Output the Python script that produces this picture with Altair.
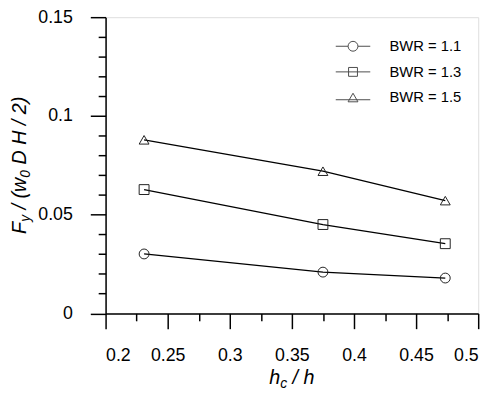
import altair as alt
import pandas as pd

# ---- data ----
hc_h = [0.231, 0.375, 0.4735]
series_labels = ["BWR = 1.1", "BWR = 1.3", "BWR = 1.5"]
fy_bwr_11 = [0.0301, 0.0209, 0.0179]
fy_bwr_13 = [0.0627, 0.0450, 0.0353]
fy_bwr_15 = [0.0879, 0.0720, 0.0571]

x_major = [0.2, 0.25, 0.3, 0.35, 0.4, 0.45, 0.5]
x_minor = [0.225, 0.275, 0.325, 0.375, 0.425, 0.475]
y_major = [0, 0.05, 0.1, 0.15]
y_minor = [0.01, 0.02, 0.03, 0.04, 0.06, 0.07, 0.08, 0.09,
           0.11, 0.12, 0.13, 0.14]

rows = []
for lab, vals in zip(series_labels, [fy_bwr_11, fy_bwr_13, fy_bwr_15]):
    for xv, yv in zip(hc_h, vals):
        rows.append({"x": xv, "y": yv, "series": lab})
df = pd.DataFrame(rows)

# ---- layout ----
W, H = 378, 300.5
PAD = {"left": 99, "top": 6.5, "right": 14, "bottom": 82}
FONT = "Liberation Sans"
MAJ, MIN = 15.5, 7.5

xs = alt.Scale(domain=[0.2, 0.5], nice=False, zero=False)
ys = alt.Scale(domain=[0, 0.15], nice=False, zero=False)

ax_common = dict(grid=False, title=None, tickColor="black", domainColor="black",
                 tickWidth=1.5, domainWidth=1.5, labelColor="black",
                 labelFont=FONT, labelFontSize=18, format=".4~g")

lines = alt.Chart(df).mark_line(color="black", strokeWidth=1.3).encode(
    x=alt.X("x:Q", scale=xs, axis=alt.Axis(values=x_major, tickSize=MAJ, orient="bottom",
                                           labelPadding=18.2, **ax_common)),
    y=alt.Y("y:Q", scale=ys, axis=alt.Axis(values=y_major, tickSize=MAJ, orient="left",
                                           labelPadding=18.2, **ax_common)),
    detail="series:N",
)

points = alt.Chart(df).mark_point(filled=False, color="#222", strokeWidth=1, size=100,
                                  opacity=1).encode(
    x=alt.X("x:Q", scale=xs, axis=alt.Axis(values=x_minor, tickSize=MIN, orient="bottom",
                                           labels=False, domain=False, **ax_common)),
    y=alt.Y("y:Q", scale=ys, axis=alt.Axis(values=y_minor, tickSize=MIN, orient="left",
                                           labels=False, domain=False, **ax_common)),
    shape=alt.Shape("series:N",
                    scale=alt.Scale(domain=series_labels,
                                    range=["circle", "square", "triangle-up"]),
                    legend=None),
)

circ = "M-3.5,0H-1M1,0H3.5M1,0A1,1,0,1,1,-1,0A1,1,0,1,1,1,0"
sq = "M-3.5,0H3.5M-0.9,-0.9H0.9V0.9H-0.9Z"
tri = "M-3.5,0.45H3.5M0,-0.87L1,0.87L-1,0.87Z"

legend_layer = alt.Chart(df).transform_filter("false").mark_point(
    filled=False, color="black", strokeWidth=1).encode(
    shape=alt.Shape("series:N",
                    scale=alt.Scale(domain=series_labels, range=[circ, sq, tri]),
                    legend=alt.Legend(orient="none", legendX=243.5, legendY=22,
                                      title=None, padding=0, symbolSize=100,
                                      symbolStrokeWidth=1, symbolStrokeColor="black",
                                      labelFont=FONT, labelFontSize=15,
                                      labelColor="black", labelOffset=29.5,
                                      rowPadding=10)),
)

# ---- composed axis titles (italic with subscripts) ----
SP = 0.278  # width of a space, in em
# (text, font size, width in em, leading gap in em)
ypieces = [("F", 20, 0.611, 0), ("y", 14, 0.5, 0), ("/ (", 20, 0.889, SP),
           ("w", 20, 0.722, 0), ("0", 14, 0.556, 0), ("D H / 2)", 20, 3.445, SP)]
total = sum((w + g) * fs for _, fs, w, g in ypieces)
cur = H / 2 + total / 2
ypos = []
for _, fs, w, g in ypieces:
    cur -= g * fs
    ypos.append(cur)
    cur -= w * fs
ytitle = pd.DataFrame({
    "t": [p[0] for p in ypieces],
    "fs": [p[1] for p in ypieces],
    "py": ypos,
    "px": [-81 if p[1] == 20 else -77 for p in ypieces],
})

xpieces = [("h", 20, 0.556, 0), ("c", 14, 0.5, 0), ("/ h", 20, 1.112, SP)]
total = sum((w + g) * fs for _, fs, w, g in xpieces)
cur = W / 2 - total / 2
xpos = []
for _, fs, w, g in xpieces:
    cur += g * fs
    xpos.append(cur)
    cur += w * fs
xtitle = pd.DataFrame({
    "t": [p[0] for p in xpieces],
    "fs": [p[1] for p in xpieces],
    "px": xpos,
    "py": [372.5 if p[1] == 20 else 376.5 for p in xpieces],
})

ytext = alt.Chart(ytitle).mark_text(angle=270, align="left", baseline="alphabetic",
                                    font=FONT, fontStyle="italic", color="black").encode(
    x=alt.X("px:Q", scale=None, axis=None),
    y=alt.Y("py:Q", scale=None, axis=None),
    size=alt.Size("fs:Q", scale=None, legend=None),
    text="t:N",
)
xtext = alt.Chart(xtitle).mark_text(align="left", baseline="alphabetic",
                                    font=FONT, fontStyle="italic", color="black").encode(
    x=alt.X("px:Q", scale=None, axis=None),
    y=alt.Y("py:Q", scale=None, axis=None),
    size=alt.Size("fs:Q", scale=None, legend=None),
    text="t:N",
)

chart = alt.layer(lines, points, legend_layer, ytext, xtext).resolve_scale(
    x="independent", y="independent", shape="independent", size="independent"
).properties(
    width=W, height=H,
    autosize=alt.AutoSizeParams(type="none"),
    padding=PAD,
).configure_view(stroke="black", strokeWidth=1.5).configure(font=FONT)

chart.save("out.html", embed_options={"renderer": "svg", "actions": False})
